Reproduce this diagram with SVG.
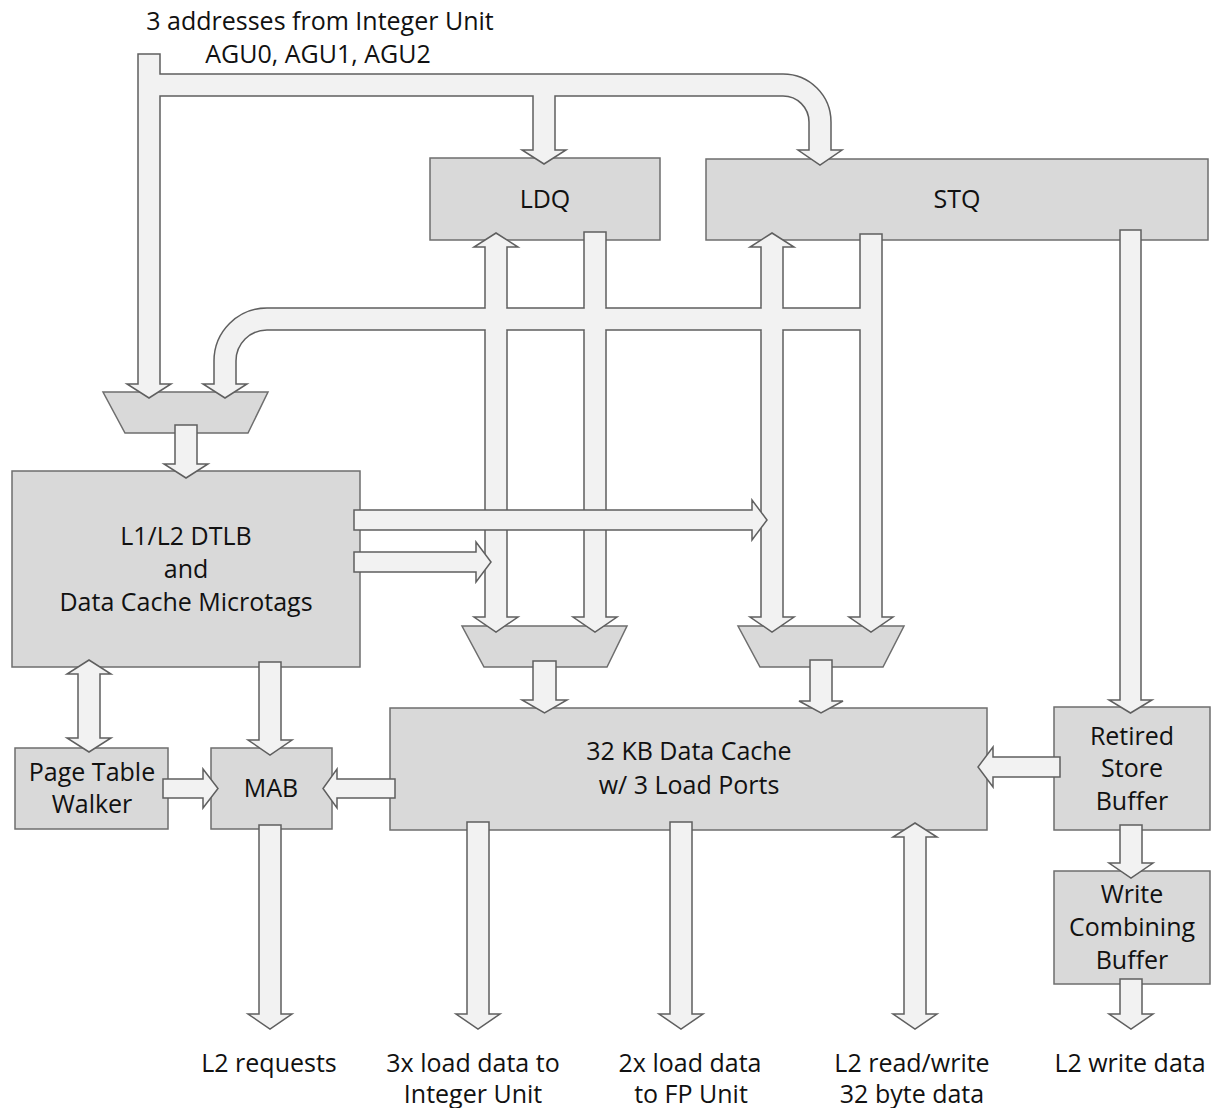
<svg xmlns="http://www.w3.org/2000/svg" width="1217" height="1108" viewBox="0 0 1217 1108">
<style>
.n{fill:#d9d9d9;stroke:#6e6e6e;stroke-width:1.5}
.a{fill:#f2f2f2;stroke:#5f5f5f;stroke-width:1.5;stroke-linejoin:miter}
.p{fill:#f2f2f2;stroke:none}
text{font-family:"Open Sans","Liberation Sans",sans-serif;font-size:25px;fill:#111111;text-anchor:middle}
</style>
<rect width="1217" height="1108" fill="#ffffff"/>
<g id="ldq"><rect class="n" x="430" y="158" width="230" height="82"/><text x="545" y="208">LDQ</text></g>
<g id="stq"><rect class="n" x="706" y="159" width="502" height="81"/><text x="957" y="208">STQ</text></g>
<g id="mux0"><polygon class="n" points="103,392 268,392 248,433 125,433"/></g>
<g id="dtlb"><rect class="n" x="12" y="471" width="348" height="196"/><text x="186" y="545">L1/L2 DTLB</text><text x="186" y="578">and</text><text x="186" y="611">Data Cache Microtags</text></g>
<g id="mux1"><polygon class="n" points="462,626 627,626 607,667 484,667"/></g>
<g id="mux2"><polygon class="n" points="738,626 904,626 883,667 760,667"/></g>
<g id="dcache"><rect class="n" x="390" y="708" width="597" height="122"/><text x="689" y="760">32 KB Data Cache</text><text x="689" y="794">w/ 3 Load Ports</text></g>
<g id="ptw"><rect class="n" x="15" y="748" width="153" height="81"/><text x="92" y="781">Page Table</text><text x="92" y="813">Walker</text></g>
<g id="mab"><rect class="n" x="211" y="748" width="121" height="81"/><text x="271" y="797">MAB</text></g>
<g id="rsb"><rect class="n" x="1054" y="707" width="156" height="123"/><text x="1132" y="745">Retired</text><text x="1132" y="777">Store</text><text x="1132" y="810">Buffer</text></g>
<g id="wcb"><rect class="n" x="1054" y="871" width="156" height="113"/><text x="1132" y="903">Write</text><text x="1132" y="936">Combining</text><text x="1132" y="969">Buffer</text></g>
<g id="connectors">
<path class="a" d="M138,54 H160 V74 H783 A48,48 0 0 1 831,122 V150 H842 L820,165 L798,150 H809 V122 A26,26 0 0 0 783,96 H555 V150 H566 L544,164 L522,150 H533 V96 H160 V384 H171 L149,398 L127,384 H138 Z"/>
<path class="a" d="M496,233 L518,247 H507 V617 H518 L496,632 L474,617 H485 V247 H474 Z"/>
<path class="a" d="M584,232 H606 V617 H617 L595,632 L573,617 H584 Z"/>
<path class="a" d="M772,233 L794,247 H783 V617 H794 L772,632 L750,617 H761 V247 H750 Z"/>
<path class="a" d="M860,234 H882 V617 H893 L871,632 L849,617 H860 V330 H267 A31,31 0 0 0 236,361 V384 H247 L225,398 L203,384 H214 V361 A53,53 0 0 1 267,308 H860 Z"/>
<rect class="p" x="485.8" y="306.5" width="20.4" height="25"/>
<rect class="p" x="584.8" y="306.5" width="20.4" height="25"/>
<rect class="p" x="761.8" y="306.5" width="20.4" height="25"/>
<path class="a" d="M354,510 H752 V500 L767,520 L752,540 V530 H354 Z"/>
<path class="a" d="M354,552 H476 V542 L491,562 L476,582 V572 H354 Z"/>
<path class="a" d="M175,425 H197 V464 H208 L186,478 L164,464 H175 Z"/>
<path class="a" d="M533,661 H556 V700 H567 L544.5,713 L522,700 H533 Z"/>
<path class="a" d="M810,660 H832 V701 H843 L821,713 L799,701 H810 Z"/>
<path class="a" d="M1120,230 H1141 V700 H1152 L1130.5,713 L1109,700 H1120 Z"/>
<path class="a" d="M1060,757 V777 H993 V787 L978,767 L993,747 V757 Z"/>
<path class="a" d="M1120,825 H1142 V863 H1153 L1131,878 L1109,863 H1120 Z"/>
<path class="a" d="M1120,979 H1142 V1014 H1153 L1131,1029 L1109,1014 H1120 Z"/>
<path class="a" d="M89,660 L111,674 H100 V738 H111 L89,752 L67,738 H78 V674 H67 Z"/>
<path class="a" d="M259,662 H281 V740 H292 L270,755 L248,740 H259 Z"/>
<path class="a" d="M163,779 H203 V769 L218,788.5 L203,808 V798 H163 Z"/>
<path class="a" d="M395,779 H337 V769 L323,788.5 L337,808 V798 H395 Z"/>
<path class="a" d="M259,825 H281 V1014 H292 L270,1029 L248,1014 H259 Z"/>
<path class="a" d="M467,822 H489 V1014 H500 L478,1029 L456,1014 H467 Z"/>
<path class="a" d="M670,822 H692 V1014 H703 L681,1029 L659,1014 H670 Z"/>
<path class="a" d="M915,823 L937,837 H926 V1014 H937 L915,1029 L893,1014 H904 V837 H893 Z"/>
</g>
<g id="labels">
<text x="320" y="30">3 addresses from Integer Unit</text>
<text x="318" y="63">AGU0, AGU1, AGU2</text>
<text x="269" y="1072">L2 requests</text>
<text x="473" y="1072">3x load data to</text>
<text x="473" y="1103">Integer Unit</text>
<text x="690" y="1072">2x load data</text>
<text x="691" y="1103">to FP Unit</text>
<text x="912" y="1072">L2 read/write</text>
<text x="912" y="1103">32 byte data</text>
<text x="1130" y="1072">L2 write data</text>
</g>
</svg>
